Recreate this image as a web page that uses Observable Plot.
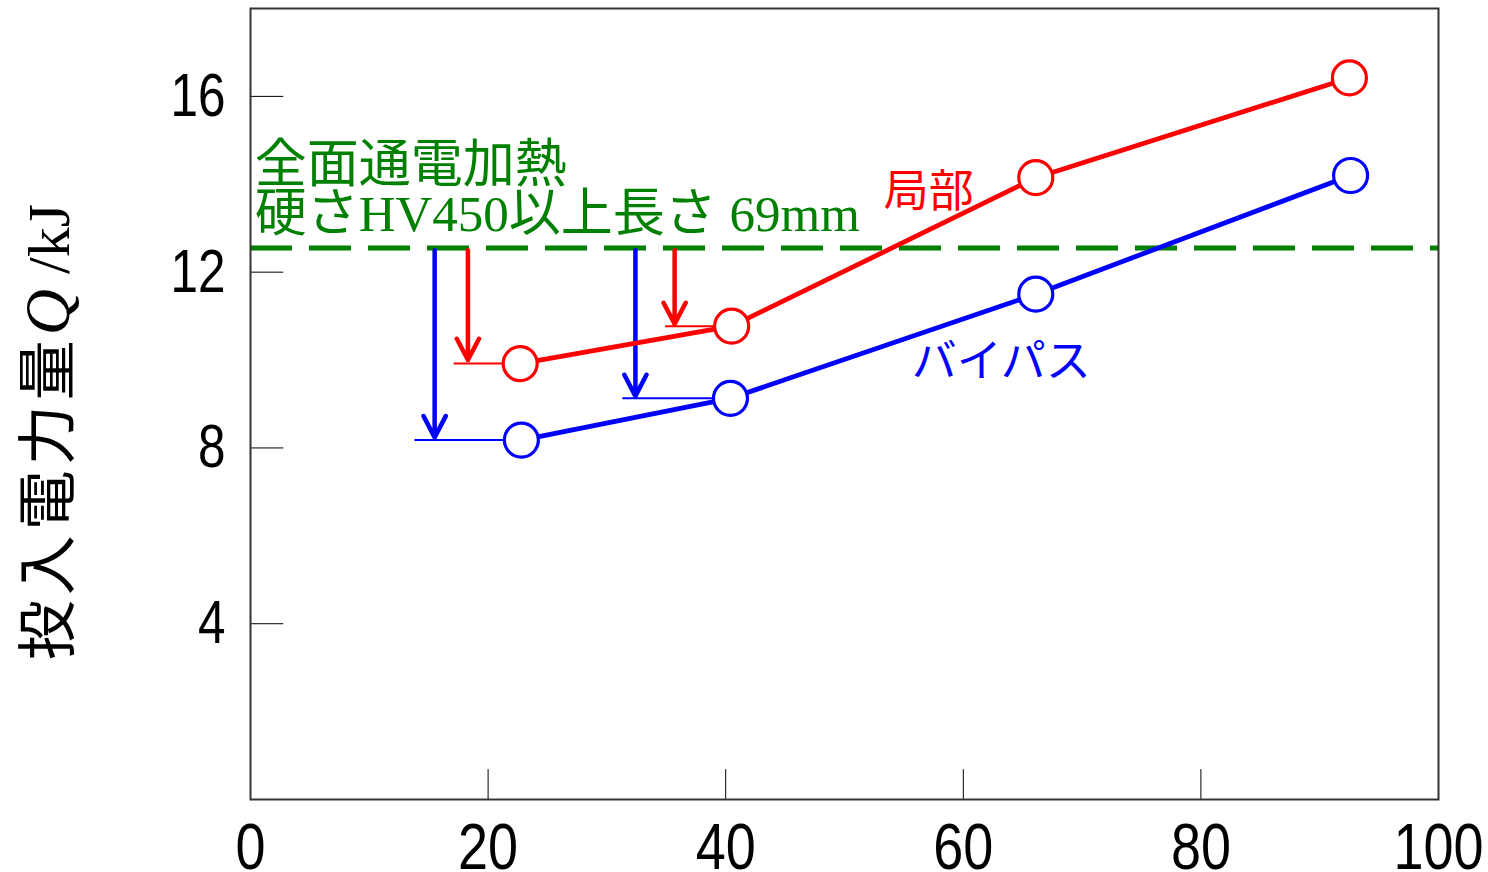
<!DOCTYPE html>
<html>
<head>
<meta charset="utf-8">
<script src="https://cdn.jsdelivr.net/npm/d3@7"></script>
<script src="https://cdn.jsdelivr.net/npm/@observablehq/plot@0.6"></script>
<style>
  html, body { margin: 0; padding: 0; background: #fff; }
  #chart svg { display: block; }
</style>
</head>
<body>
<div id="chart"></div>
<script>
// ---- data ----
const xTicks = [0, 20, 40, 60, 80, 100];
const yTicks = [4, 8, 12, 16];
const innerXTicks = [20, 40, 60, 80];
const seriesNames = ["局部", "バイパス"];
const seriesColors = ["#ff0000", "#0000ff"];
const localX = [22.7, 40.5, 66.1, 92.5];
const localQ = [9.92, 10.77, 14.15, 16.42];
const bypassX = [22.8, 40.4, 66.1, 92.6];
const bypassQ = [8.18, 9.13, 11.5, 14.2];
const fullHeatQ = 12.55;
// reduction arrows from the full-heating level
const arrowX = [18.3, 35.7, 15.5, 32.4];
const arrowStartQ = [12.5, 12.5, 12.5, 12.5];
const arrowTipQ = [10.0, 10.82, 8.24, 9.18];
const arrowSeries = ["局部", "局部", "バイパス", "バイパス"];
const guideStartX = [17.1, 34.9, 13.8, 31.3];
const guideEndX = [22.7, 40.5, 22.8, 40.4];
const guideQ = [9.92, 10.77, 8.18, 9.13];
const titleLines = ["全面通電加熱", "硬さHV450以上長さ 69mm"];
const yLabel = "投入電力量Q /kJ";

// ---- fonts ----
const CJK = "'Noto Sans CJK JP', 'Noto Sans CJK SC', sans-serif";
const SERIF = "'Liberation Serif', 'DejaVu Serif', serif";
const SANS = "'Liberation Sans', Arial, sans-serif";
const GREEN = "#008000";

// mixed-font runs for texts that combine Japanese and Latin
const runs = new Map([
  [titleLines[1], [["硬さ", "cjk"], ["HV450", "serifSmall"], ["以上長さ", "cjk"], [" 69mm", "serifSmall"]]],
  [yLabel, [["投入電力量", "cjkwide"], ["Q", "italic"], [" /kJ", "serif"]]]
]);

// ---- tables built from the arrays ----
const points = [
  ...localX.map((x, i) => ({series: seriesNames[0], x, q: localQ[i]})),
  ...bypassX.map((x, i) => ({series: seriesNames[1], x, q: bypassQ[i]}))
];
const arrows = arrowX.map((x, i) => ({series: arrowSeries[i], x, q1: arrowStartQ[i], q2: arrowTipQ[i]}));
const guides = guideStartX.map((x1, i) => ({series: arrowSeries[i], x1, x2: guideEndX[i], q: guideQ[i]}));

const chart = Plot.plot({
  width: 1488,
  height: 872,
  marginLeft: 250,
  marginRight: 50,
  marginTop: 8,
  marginBottom: 73,
  style: {fontFamily: CJK, background: "#fff", overflow: "visible"},
  x: {domain: [0, 100]},
  y: {domain: [0, 18]},
  color: {domain: seriesNames, range: seriesColors},
  marks: [
    Plot.ruleY([fullHeatQ], {stroke: GREEN, strokeWidth: 5, strokeDasharray: "42,17"}),
    Plot.link(guides, {x1: "x1", x2: "x2", y1: "q", y2: "q", stroke: "series", strokeWidth: 2}),
    Plot.arrow(arrows, {x1: "x", x2: "x", y1: "q1", y2: "q2", stroke: "series", strokeWidth: 4.5, headLength: 8, headAngle: 55}),
    Plot.line(points, {x: "x", y: "q", z: "series", stroke: "series", strokeWidth: 4.8}),
    Plot.dot(points, {x: "x", y: "q", stroke: "series", fill: "white", r: 17, strokeWidth: 3.2}),
    Plot.ruleX(innerXTicks, {y1: 0, y2: 0.68, stroke: "#000", strokeWidth: 1}),
    Plot.ruleY(yTicks, {x1: 0, x2: 2.8, stroke: "#000", strokeWidth: 1}),
    Plot.frame({stroke: "#333", strokeWidth: 2}),
    Plot.axisX(xTicks, {tickSize: 0, tickPadding: 23, fontSize: 65, fontFamily: SANS, label: null, fill: "#000"}),
    Plot.axisY(yTicks, {tickSize: 0, tickPadding: 25, fontSize: 61, fontFamily: SANS, label: null, fill: "#000"}),
    Plot.text([titleLines[0]], {x: () => 0.35, y: () => 14.05, text: d => d, textAnchor: "start", lineAnchor: "bottom", fontSize: 52, fill: GREEN, fontFamily: CJK}),
    Plot.text([titleLines[1]], {x: () => 0.35, y: () => 12.93, text: d => d, textAnchor: "start", lineAnchor: "bottom", fontSize: 52, fill: GREEN, fontFamily: CJK}),
    Plot.text([seriesNames[0]], {x: () => 57.1, y: () => 13.82, text: d => d, textAnchor: "middle", fontSize: 45, fill: seriesColors[0], fontFamily: CJK}),
    Plot.text([seriesNames[1]], {x: () => 63.2, y: () => 9.95, text: d => d, textAnchor: "middle", fontSize: 45, fill: seriesColors[1], fontFamily: CJK}),
    Plot.text([yLabel], {frameAnchor: "left", y: () => 8.36, text: d => d, dx: -201, rotate: -90, textAnchor: "middle", fontSize: 60, fill: "#000", fontFamily: CJK})
  ]
});

// split mixed Japanese/Latin texts into font runs
d3.select(chart).selectAll("text").each(function () {
  const t = this.textContent;
  if (!runs.has(t)) return;
  const el = d3.select(this);
  el.text(null);
  for (const [s, kind] of runs.get(t)) {
    const ts = el.append("tspan").text(s);
    if (kind === "cjk") ts.attr("font-family", CJK);
    if (kind === "cjkwide") ts.attr("font-family", CJK).attr("letter-spacing", "5px");
    if (kind === "serif") ts.attr("font-family", SERIF);
    if (kind === "serifSmall") ts.attr("font-family", SERIF).attr("font-size", 51);
    if (kind === "italic") ts.attr("font-family", SERIF).attr("font-style", "italic").attr("font-size", 64);
  }
});

// condensed tick numerals, as in the reference
d3.select(chart).selectAll('g[aria-label="x-axis tick label"] text').each(function () {
  const n = this.textContent.length;
  d3.select(this).attr("textLength", 30 * n).attr("lengthAdjust", "spacingAndGlyphs");
});
d3.select(chart).selectAll('g[aria-label="y-axis tick label"] text').each(function () {
  const n = this.textContent.length;
  d3.select(this).attr("textLength", 27.5 * n).attr("lengthAdjust", "spacingAndGlyphs");
});

document.getElementById("chart").append(chart);
</script>
</body>
</html>
